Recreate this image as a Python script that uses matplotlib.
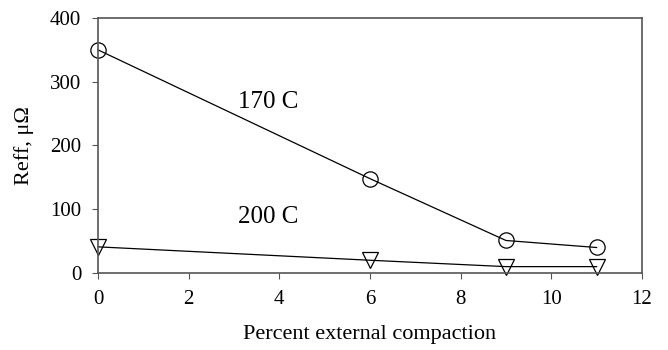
import matplotlib.pyplot as plt

plt.rcParams['font.family'] = ['Liberation Serif', 'DejaVu Serif']

compaction = [0, 6, 9, 11]
reff_170 = [350, 148, 51, 40]
reff_200 = [41, 20, 10, 10]

fig = plt.figure(figsize=(6.68, 3.5), dpi=100)
ax = fig.add_axes([0.1467, 0.22, 0.8143, 0.7286])

ax.plot(compaction, reff_170, color='black', lw=0.9, marker='o', ms=11,
        mfc='none', mec='black', mew=0.9, clip_on=False)
ax.plot(compaction, reff_200, color='black', lw=0.9, marker='v', ms=11,
        mfc='none', mec='black', mew=0.9, clip_on=False)

ax.text(3.75, 268, '170 C', ha='center', va='center', fontsize=18)
ax.text(3.75, 88, '200 C', ha='center', va='center', fontsize=18)

ax.set_xlim(0, 12)
ax.set_ylim(0, 400)
ax.set_xticks(range(0, 13, 2))
ax.set_yticks(range(0, 401, 100))
ax.tick_params(labelsize=15, direction='out', length=4, color='#555555')
ax.tick_params(axis='x', pad=8)
ax.tick_params(axis='y', pad=8)
for s in ax.spines.values():
    s.set_color('#555555')
    s.set_linewidth(1.2)

ax.set_xlabel('Percent external compaction', fontsize=16)
ax.set_ylabel('Reff, μΩ', fontsize=16)
ax.xaxis.set_label_coords(0.5, -0.205)
ax.yaxis.set_label_coords(-0.118, 0.5)

fig.savefig('out.png', dpi=100)
